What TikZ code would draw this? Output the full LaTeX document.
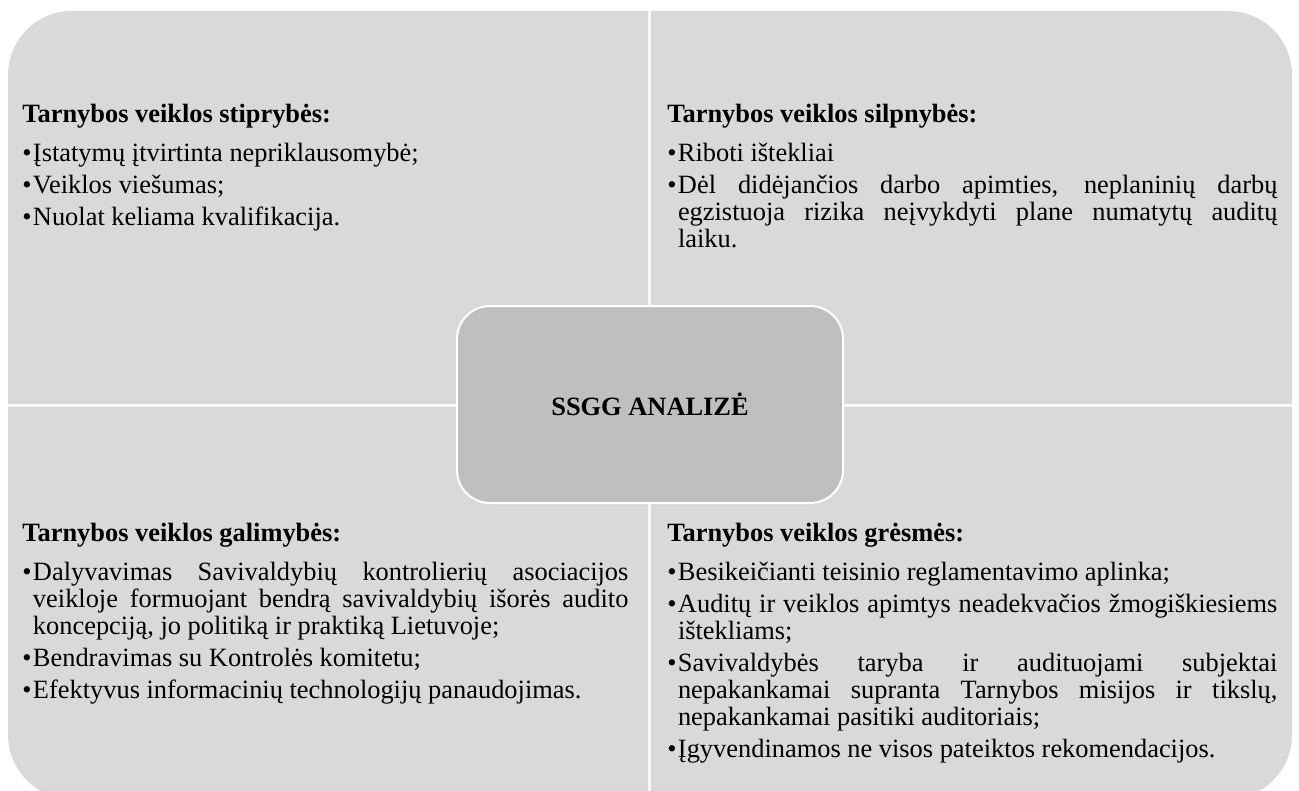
\documentclass[tikz,border=0pt]{standalone}
\usepackage{fontspec}
\setmainfont{Liberation Serif}[BoldFont={Liberation Serif Bold}]
\definecolor{quadgray}{RGB}{217,217,217}
\definecolor{boxgray}{RGB}{191,191,191}
\newcommand{\bul}{\par\noindent\hangindent=5.3pt\hangafter=1\makebox[5.3pt][l]{\textbullet}}
\newcommand{\headline}[1]{\setlength{\parskip}{2.5pt}\hbadness=10000\textbf{#1}\par\vspace{3.5pt}}
\begin{document}
\begin{tikzpicture}[x=0.5pt, y=-0.5pt,
    quad/.style={fill=quadgray},
    txt/.style={anchor=base west, inner sep=0pt, align=justify, font=\fontsize{13.2}{13.5}\selectfont},
    centrebox/.style={draw=white, line width=1pt, fill=boxgray, rounded corners=16.5pt,
      minimum width=193pt, minimum height=98.5pt, inner sep=0pt, font=\fontsize{13.2}{13.5}\selectfont\bfseries}]
  \useasboundingbox (0,0) rectangle (1299,791);
  \clip (0,0) rectangle (1299,791);
  % quadrants, one rounded outer corner each
  \fill[quad] (648.3,404) -- (8,404) -- (8,75) arc[start angle=180, end angle=270, radius=64] -- (648.3,11) -- cycle;
  \fill[quad] (650.7,404) -- (650.7,11) -- (1228,11) arc[start angle=270, end angle=360, radius=64] -- (1292,404) -- cycle;
  \fill[quad] (648.3,406.7) -- (8,406.7) -- (8,735) arc[start angle=180, end angle=90, radius=64] -- (648.3,799) -- cycle;
  \fill[quad] (650.7,406.7) -- (650.7,799) -- (1228,799) arc[start angle=90, end angle=0, radius=64] -- (1292,406.7) -- cycle;
  % texts
  \node[txt, text width=303pt] (strengths) at (22,123) {\headline{Tarnybos veiklos stiprybės:}%
    \bul Įstatymų įtvirtinta nepriklausomybė;
    \bul Veiklos viešumas;
    \bul Nuolat keliama kvalifikacija.\par};
  \node[txt, text width=305pt] (weaknesses) at (667,123) {\headline{Tarnybos veiklos silpnybės:}%
    \bul Riboti ištekliai
    \bul Dėl didėjančios darbo apimties, neplaninių darbų\linebreak egzistuoja rizika neįvykdyti plane numatytų auditų\linebreak laiku.\par};
  \node[txt, text width=303pt] (opportunities) at (22,541) {\headline{Tarnybos veiklos galimybės:}%
    \bul Dalyvavimas Savivaldybių kontrolierių asociacijos\linebreak veikloje formuojant bendrą savivaldybių išorės audito\linebreak koncepciją, jo politiką ir praktiką Lietuvoje;
    \bul Bendravimas su Kontrolės komitetu;
    \bul Efektyvus informacinių technologijų panaudojimas.\par};
  \node[txt, text width=305pt] (threats) at (667,541) {\headline{Tarnybos veiklos grėsmės:}%
    \bul Besikeičianti teisinio reglamentavimo aplinka;
    \bul Auditų ir veiklos apimtys neadekvačios žmogiškiesiems\linebreak ištekliams;
    \bul Savivaldybės taryba ir audituojami subjektai\linebreak nepakankamai supranta Tarnybos misijos ir tikslų,\linebreak nepakankamai pasitiki auditoriais;
    \bul Įgyvendinamos ne visos pateiktos rekomendacijos.\par};
  % centre
  \node[centrebox] (ssgg) at (650,404.5) {SSGG ANALIZĖ};
\end{tikzpicture}
\end{document}
